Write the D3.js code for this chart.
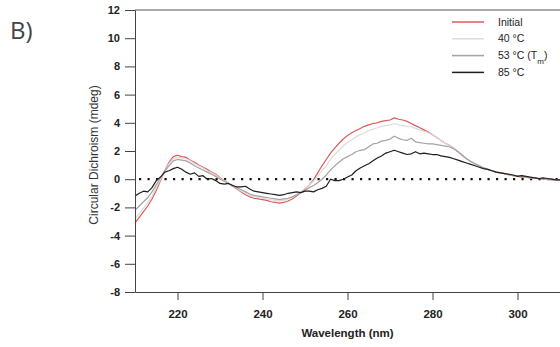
<!DOCTYPE html>
<html>
<head>
<meta charset="utf-8">
<script src="https://cdn.jsdelivr.net/npm/d3@7"></script>
<style>
  body { margin: 0; background: #fff; }
  svg { display: block; font-family: 'Liberation Sans', Arial, sans-serif; }
</style>
</head>
<body>
<div id="chart"></div>
<script>
// wavelength grid, 1 nm steps
const wavelengths = d3.range(210, 311)

const initial = [
  -3.1, -2.7, -2.3, -1.9, -1.4, -0.8, -0.1, 0.6, 1.2, 1.6,
  1.7, 1.6, 1.55, 1.35, 1.2, 1.0, 0.85, 0.7, 0.5, 0.35,
  0.1, -0.1, -0.3, -0.5, -0.7, -0.9, -1.1, -1.25, -1.35, -1.4,
  -1.45, -1.5, -1.6, -1.65, -1.7, -1.65, -1.55, -1.4, -1.2, -0.95,
  -0.7, -0.4, -0.05, 0.45, 0.95, 1.4, 1.85, 2.2, 2.55, 2.85,
  3.1, 3.3, 3.45, 3.6, 3.75, 3.85, 3.95, 4.0, 4.1, 4.15,
  4.2, 4.35, 4.25, 4.2, 4.1, 3.95, 3.8, 3.65, 3.5, 3.35,
  3.15, 2.95, 2.75, 2.55, 2.4, 2.2, 1.95, 1.7, 1.45, 1.25,
  1.1, 0.95, 0.8, 0.7, 0.6, 0.5, 0.45, 0.4, 0.3, 0.25,
  0.2, 0.15, 0.15, 0.1, 0.1, 0.05, 0.0, 0.0, -0.05, -0.05,
  -0.05
]

const t40 = [
  -2.8, -2.45, -2.05, -1.65, -1.2, -0.6, 0.0, 0.6, 1.1, 1.45,
  1.55, 1.5, 1.45, 1.3, 1.1, 0.95, 0.8, 0.6, 0.45, 0.3,
  0.05, -0.1, -0.3, -0.45, -0.65, -0.85, -1.0, -1.15, -1.25, -1.3,
  -1.35, -1.4, -1.45, -1.5, -1.55, -1.5, -1.4, -1.3, -1.1, -0.9,
  -0.65, -0.4, -0.15, 0.2, 0.6, 0.95, 1.4, 1.75, 2.05, 2.35,
  2.6, 2.8, 3.0, 3.15, 3.3, 3.45, 3.55, 3.65, 3.75, 3.8,
  3.85, 3.95, 3.85, 3.8, 3.75, 3.7, 3.6, 3.5, 3.4, 3.3,
  3.15, 2.95, 2.75, 2.55, 2.4, 2.2, 1.95, 1.7, 1.45, 1.25,
  1.1, 0.95, 0.8, 0.7, 0.6, 0.5, 0.45, 0.4, 0.35, 0.25,
  0.2, 0.2, 0.15, 0.1, 0.1, 0.05, 0.05, 0.0, 0.0, -0.05,
  -0.05
]

const t53 = [
  -2.2, -1.9, -1.6, -1.3, -0.9, -0.4, 0.1, 0.6, 0.95, 1.3,
  1.4, 1.35, 1.3, 1.15, 0.95, 0.8, 0.65, 0.5, 0.35, 0.2,
  0.0, -0.15, -0.3, -0.45, -0.6, -0.75, -0.9, -1.05, -1.15, -1.2,
  -1.25, -1.3, -1.35, -1.4, -1.45, -1.4, -1.35, -1.25, -1.1, -0.95,
  -0.8, -0.6, -0.45, -0.25, 0.0, 0.3, 0.65, 0.95, 1.2, 1.45,
  1.6, 1.75, 1.95, 2.05, 2.1, 2.3, 2.5, 2.55, 2.7, 2.75,
  2.85, 3.05, 2.9, 2.8, 2.75, 2.9, 2.65, 2.6, 2.55, 2.5,
  2.5, 2.45, 2.4, 2.35, 2.3, 2.15, 1.95, 1.7, 1.45, 1.25,
  1.1, 0.95, 0.8, 0.7, 0.6, 0.5, 0.45, 0.4, 0.35, 0.25,
  0.25, 0.2, 0.15, 0.1, 0.1, 0.05, 0.05, 0.0, 0.0, -0.05,
  -0.05
]

const t85 = [
  -1.2, -1.0, -0.85, -0.9, -0.6, -0.1, 0.15, 0.5, 0.6, 0.75,
  0.85, 0.7, 0.5, 0.35, 0.45, 0.2, 0.25, 0.0, 0.05, -0.1,
  -0.3, -0.35, -0.3, -0.45, -0.55, -0.55, -0.5, -0.7, -0.85, -0.9,
  -0.95, -1.0, -1.05, -1.1, -1.15, -1.1, -1.0, -0.95, -0.9, -0.95,
  -0.85, -0.85, -0.9, -0.75, -0.65, -0.5, 0.0, -0.1, -0.1, 0.0,
  0.15, 0.3, 0.6, 0.8, 0.95, 1.1, 1.3, 1.5, 1.65, 1.85,
  1.95, 2.05, 1.95, 1.85, 1.75, 1.8, 1.95, 1.8, 1.85, 1.8,
  1.75, 1.75, 1.65, 1.6, 1.55, 1.45, 1.35, 1.25, 1.15, 1.05,
  0.95, 0.85, 0.75, 0.7, 0.6, 0.5, 0.45, 0.4, 0.35, 0.3,
  0.2, 0.25, 0.2, 0.15, 0.1, 0.05, 0.1, 0.05, 0.0, -0.05,
  -0.05
]

const seriesNames = ['Initial', '40 °C', '53 °C', '85 °C']
const seriesValues = [initial, t40, t53, t85]
const seriesColors = ['#e05a5a', '#dcdcdc', '#a3a3a3', '#1e1e1e']

const yTicks = [-8, -6, -4, -2, 0, 2, 4, 6, 8, 10, 12]
const xTicks = [220, 240, 260, 280, 300]

const width = 560
	, height = 347
	, margin = { top: 10, right: 0, bottom: 55, left: 135 }

const x = d3.scaleLinear()
	.domain([210, 310])
	.range([margin.left, width - margin.right])

const y = d3.scaleLinear()
	.domain([-8, 12])
	.range([height - margin.bottom, margin.top])

const svg = d3.select('#chart').append('svg')
	.attr('width', width)
	.attr('height', height)

// panel letter
svg.append('text')
	.attr('x', 10)
	.attr('y', 39)
	.attr('font-family', "'Open Sans', sans-serif")
	.attr('font-size', 24)
	.attr('fill', '#444')
	.text('B)')

// top frame line
svg.append('line')
	.attr('x1', x(210)).attr('x2', x(310))
	.attr('y1', y(12)).attr('y2', y(12))
	.attr('stroke', '#555')

// zero line, dotted
svg.append('line')
	.attr('x1', x(210) + 4).attr('x2', x(310))
	.attr('y1', y(0)).attr('y2', y(0))
	.attr('stroke', '#111')
	.attr('stroke-width', 2.2)
	.attr('stroke-dasharray', '2.2,6.3')

// curves
const line = d3.line()
	.x((d, i) => x(wavelengths[i]))
	.y(d => y(d))

svg.append('g')
	.attr('fill', 'none')
	.selectAll('path')
	.data(seriesValues)
	.join('path')
	  .attr('d', line)
	  .attr('stroke', (d, i) => seriesColors[i])
	  .attr('stroke-width', 1.2)
	  .attr('stroke-linejoin', 'round')

// axes (plain hyphen for negatives, like the original)
const yAxis = svg.append('g')
	.attr('transform', 'translate(' + x(210) + ',0)')
	.call(d3.axisLeft(y).tickValues(yTicks).tickFormat(d => String(d))
		.tickSizeInner(10).tickSizeOuter(0).tickPadding(5))

const xAxis = svg.append('g')
	.attr('transform', 'translate(0,' + y(-8) + ')')
	.call(d3.axisBottom(x).tickValues(xTicks).tickFormat(d => String(d))
		.tickSizeInner(8).tickSizeOuter(0).tickPadding(10))

svg.selectAll('.domain, .tick line').attr('stroke', '#444')
yAxis.selectAll('text')
	.attr('font-size', 11)
	.attr('font-weight', 'bold')
	.attr('fill', '#222')
xAxis.selectAll('text')
	.attr('font-size', 11.5)
	.attr('font-weight', 'bold')
	.attr('fill', '#222')

// axis titles
svg.append('text')
	.attr('x', (x(210) + x(310)) / 2)
	.attr('y', 337)
	.attr('text-anchor', 'middle')
	.attr('font-size', 11.5)
	.attr('font-weight', 'bold')
	.attr('fill', '#222')
	.text('Wavelength (nm)')

svg.append('text')
	.attr('transform', 'translate(98,155) rotate(-90)')
	.attr('text-anchor', 'middle')
	.attr('font-size', 12)
	.attr('fill', '#333')
	.text('Circular Dichroism (mdeg)')

// legend
const legend = svg.append('g')
	.selectAll('g')
	.data(seriesNames)
	.join('g')
	  .attr('transform', (d, i) => 'translate(452,' + (22 + i * 16.8) + ')')

legend.append('line')
	.attr('x1', 0).attr('x2', 32)
	.attr('stroke', (d, i) => seriesColors[i])
	.attr('stroke-width', 1.5)

const labels = legend.append('text')
	.attr('x', 46)
	.attr('dy', '0.35em')
	.attr('font-size', 10.5)
	.attr('fill', '#222')
	.text(d => d)

// subscript on the Tm label
labels.filter((d, i) => i === 2)
	.append('tspan').text(' (T')
labels.filter((d, i) => i === 2)
	.append('tspan').attr('baseline-shift', 'sub').attr('font-size', 8).text('m')
labels.filter((d, i) => i === 2)
	.append('tspan').text(')')
</script>
</body>
</html>
